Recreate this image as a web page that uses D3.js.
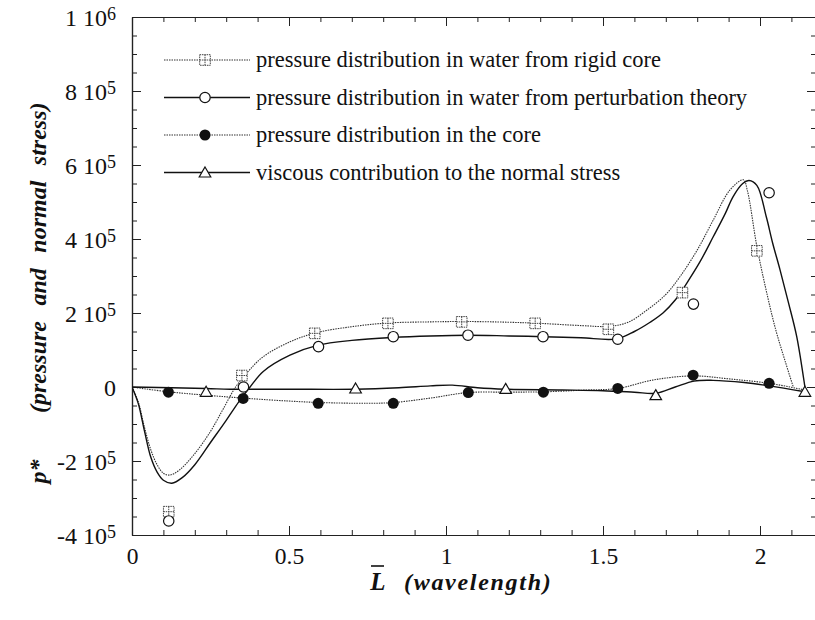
<!DOCTYPE html>
<html lang="en">
<head>
<meta charset="UTF-8">
<title>pressure</title>
<script src="https://cdn.jsdelivr.net/npm/d3@7"></script>
<style>
  body { margin: 0; background: #fff; }
  text { font-family: "Liberation Serif", "Times New Roman", serif; fill: #111; }
</style>
</head>
<body>
<svg id="chart" width="815" height="620"></svg>
<script>
// x in wavelengths, y in units of 1e5
let rigidX = [0, 0.02, 0.04, 0.06, 0.08, 0.1, 0.12, 0.15, 0.2, 0.25, 0.29, 0.33, 0.37, 0.418, 0.503, 0.583, 0.7, 0.815, 0.95, 1.06, 1.2, 1.3, 1.43, 1.52, 1.58, 1.64, 1.7, 1.745, 1.8, 1.851, 1.904, 1.947, 1.96, 1.99, 2.02, 2.05, 2.08, 2.106]
let rigidY = [0, -0.4, -1.1, -1.7, -2.1, -2.33, -2.38, -2.25, -1.8, -1.2, -0.6, 0, 0.42, 0.82, 1.22, 1.46, 1.63, 1.73, 1.76, 1.77, 1.75, 1.72, 1.66, 1.64, 1.75, 2.08, 2.5, 2.98, 3.7, 4.51, 5.32, 5.6, 5.3, 3.8, 2.6, 1.55, 0.7, 0]

let pertX = [0, 0.02, 0.04, 0.06, 0.08, 0.1, 0.127, 0.16, 0.2, 0.25, 0.3, 0.34, 0.376, 0.418, 0.503, 0.593, 0.7, 0.832, 0.95, 1.07, 1.2, 1.31, 1.43, 1.543, 1.6, 1.65, 1.691, 1.73, 1.767, 1.81, 1.851, 1.89, 1.914, 1.945, 1.965, 1.99, 2.02, 2.04, 2.064, 2.09, 2.117, 2.143]
let pertY = [0, -0.45, -1.2, -1.9, -2.3, -2.52, -2.6, -2.45, -2.1, -1.5, -0.9, -0.4, 0, 0.42, 0.86, 1.13, 1.26, 1.34, 1.38, 1.4, 1.38, 1.36, 1.33, 1.3, 1.5, 1.75, 2.0, 2.35, 2.81, 3.4, 4.06, 4.7, 5.14, 5.5, 5.58, 5.45, 4.6, 3.9, 3.16, 2.3, 1.36, 0]

let coreX = [0, 0.117, 0.354, 0.5, 0.6, 0.75, 0.832, 0.95, 1.071, 1.2, 1.31, 1.45, 1.547, 1.66, 1.787, 1.9, 2.029, 2.143]
let coreY = [0, -0.13, -0.3, -0.38, -0.42, -0.44, -0.42, -0.3, -0.15, -0.14, -0.13, -0.08, -0.04, 0.19, 0.3, 0.22, 0.1, -0.08]

let viscX = [0, 0.236, 0.312, 0.5, 0.712, 0.85, 0.95, 1.02, 1.1, 1.19, 1.37, 1.5, 1.6, 1.668, 1.73, 1.79, 1.85, 1.95, 2.03, 2.143]
let viscY = [0, -0.04, -0.06, -0.06, -0.06, -0.02, 0.03, 0.05, -0.02, -0.06, -0.08, -0.1, -0.14, -0.17, 0, 0.16, 0.18, 0.12, 0.03, -0.13]

// symbols
let rigidPtX = [0.117, 0.35, 0.582, 0.815, 1.05, 1.284, 1.517, 1.753, 1.99]
let rigidPtY = [-3.37, 0.31, 1.45, 1.72, 1.76, 1.72, 1.56, 2.55, 3.68]
let pertPtX = [0.117, 0.355, 0.594, 0.832, 1.07, 1.309, 1.547, 1.788, 2.029]
let pertPtY = [-3.62, 0, 1.09, 1.36, 1.4, 1.36, 1.29, 2.24, 5.25]
let corePtX = [0.116, 0.354, 0.593, 0.832, 1.071, 1.31, 1.547, 1.787, 2.029]
let corePtY = [-0.14, -0.31, -0.44, -0.44, -0.15, -0.14, -0.04, 0.32, 0.1]
let viscPtX = [0.236, 0.712, 1.19, 1.668, 2.143]
let viscPtY = [-0.13, -0.04, -0.05, -0.22, -0.13]

let xMajor = [0, 0.5, 1, 1.5, 2]
let yMajor = [-4e5, -2e5, 0, 2e5, 4e5, 6e5, 8e5, 1e6]
let yLabels = [["-4 10", "5"], ["-2 10", "5"], ["0", ""], ["2 10", "5"], ["4 10", "5"], ["6 10", "5"], ["8 10", "5"], ["1 10", "6"]]

let legendNames = [
  "pressure distribution in water from rigid core",
  "pressure distribution in water from perturbation theory",
  "pressure distribution in the core",
  "viscous contribution to the normal stress"
]

let svg = d3.select("#chart")
let pLeft = 132, pTop = 17, pBottom = 535, pRight = 817

let x = d3.scaleLinear().domain([0, (pRight - pLeft) / 314]).range([pLeft, pRight])
let y = d3.scaleLinear().domain([-4e5, 1e6]).range([pBottom, pTop])

let xMinor = d3.range(0, 2.2, 0.1).map(v => +v.toFixed(1)).filter(v => xMajor.indexOf(v) < 0)
let yMinor = d3.range(-4e5, 1e6, 5e4).filter(v => yMajor.indexOf(v) < 0)

// frame + ticks (inward)
function axes(gen, pos, tr, major, minor) {
  svg.append("g").attr("transform", tr)
    .call(gen(pos).tickValues(minor).tickSize(-5).tickSizeOuter(0).tickFormat(""))
  return svg.append("g").attr("transform", tr)
    .call(gen(pos).tickValues(major).tickSize(-9).tickSizeOuter(0))
}
let gb = axes(d3.axisBottom, x, `translate(0,${pBottom})`, xMajor, xMinor)
axes(d3.axisTop, x, `translate(0,${pTop})`, xMajor, xMinor).selectAll("text").remove()
let gl = axes(d3.axisLeft, y, `translate(${pLeft},0)`, yMajor, yMinor)
axes(d3.axisRight, y, `translate(${pRight - 1},0)`, yMajor, yMinor).selectAll("text").remove()

svg.selectAll(".domain").attr("stroke", "#222").attr("stroke-width", 1.2)
svg.selectAll(".tick line").attr("stroke", "#222")

gb.selectAll(".tick text").attr("font-size", 23.5).attr("y", 0).attr("dy", 0)
  .attr("transform", "translate(0,29)").attr("fill", "#111")
  .text(d => d)

gl.selectAll(".tick text").each(function(d) {
  let t = d3.select(this).text("").attr("font-size", 24).attr("x", -16).attr("dy", "0.35em").attr("fill", "#111")
  let lab = yLabels[yMajor.indexOf(d)]
  t.append("tspan").text(lab[0])
  if (lab[1]) t.append("tspan").attr("font-size", 18).attr("dy", -6).text(lab[1])
})

// curves
let line = d3.line().x(d => x(d[0])).y(d => y(d[1] * 1e5)).curve(d3.curveCatmullRom.alpha(0.5))
let zip = (a, b) => a.map((v, i) => [v, b[i]])

svg.append("clipPath").attr("id", "clip").append("rect")
  .attr("x", pLeft).attr("y", pTop).attr("width", pRight - pLeft).attr("height", pBottom - pTop)
let plot = svg.append("g").attr("clip-path", "url(#clip)")

plot.append("path").attr("d", line(zip(rigidX, rigidY))).attr("fill", "none")
  .attr("stroke", "#333").attr("stroke-width", 1.1).attr("stroke-dasharray", "1.5,1")
plot.append("path").attr("d", line(zip(pertX, pertY))).attr("fill", "none")
  .attr("stroke", "#111").attr("stroke-width", 1.4)
plot.append("path").attr("d", line(zip(coreX, coreY))).attr("fill", "none")
  .attr("stroke", "#333").attr("stroke-width", 1.1).attr("stroke-dasharray", "1.5,1")
plot.append("path").attr("d", line(zip(viscX, viscY))).attr("fill", "none")
  .attr("stroke", "#111").attr("stroke-width", 1.4)

// marker drawers
function square(g, cx, cy) {
  let s = 5.3
  g.append("rect").attr("x", cx - s).attr("y", cy - s).attr("width", 2 * s).attr("height", 2 * s)
    .attr("fill", "#fff").attr("stroke", "#444").attr("stroke-width", 1).attr("stroke-dasharray", "1.5,0.8")
  g.append("path").attr("d", `M${cx - s},${cy}H${cx + s}M${cx},${cy - s}V${cy + s}`)
    .attr("stroke", "#444").attr("stroke-width", 1).attr("stroke-dasharray", "1.5,0.8")
}
function circle(g, cx, cy) {
  g.append("circle").attr("cx", cx).attr("cy", cy).attr("r", 5.2)
    .attr("fill", "#fff").attr("stroke", "#111").attr("stroke-width", 1.2)
}
function dot(g, cx, cy) {
  g.append("circle").attr("cx", cx).attr("cy", cy).attr("r", 5.5).attr("fill", "#111")
}
function tri(g, cx, cy) {
  g.append("path").attr("d", `M${cx},${cy - 5.5}L${cx + 5.8},${cy + 4.5}L${cx - 5.8},${cy + 4.5}Z`)
    .attr("fill", "#fff").attr("stroke", "#111").attr("stroke-width", 1.2)
}

let mg = svg.append("g")
rigidPtX.forEach((v, i) => square(mg, x(v), y(rigidPtY[i] * 1e5)))
pertPtX.forEach((v, i) => circle(mg, x(v), y(pertPtY[i] * 1e5)))
corePtX.forEach((v, i) => dot(mg, x(v), y(corePtY[i] * 1e5)))
viscPtX.forEach((v, i) => tri(mg, x(v), y(viscPtY[i] * 1e5)))

// legend
let marks = [square, circle, dot, tri]
let dashes = ["1.5,1", null, "1.5,1", null]
legendNames.forEach((name, i) => {
  let ly = 60 + i * 37.5
  let lg = svg.append("g")
  lg.append("line").attr("x1", 164).attr("x2", 250).attr("y1", ly).attr("y2", ly)
    .attr("stroke", i % 2 ? "#111" : "#333").attr("stroke-width", i % 2 ? 1.3 : 1.1)
    .attr("stroke-dasharray", dashes[i])
  marks[i](lg, 205, ly)
  lg.append("text").attr("x", 256).attr("y", ly).attr("dy", "0.33em")
    .attr("font-size", 22.5).text(name)
})

// axis titles
svg.append("text")
  .attr("transform", "translate(46,293) rotate(-90)")
  .attr("text-anchor", "middle").attr("font-size", 24)
  .attr("font-weight", "bold").attr("font-style", "italic")
  .style("white-space", "pre").attr("word-spacing", 9.5)
  .text("p*   (pressure and normal stress)")

let xt = svg.append("g")
xt.append("text").attr("x", 378).attr("y", 590).attr("text-anchor", "middle")
  .attr("font-size", 25).attr("font-weight", "bold").attr("font-style", "italic").text("L")
xt.append("line").attr("x1", 371).attr("x2", 384).attr("y1", 566).attr("y2", 566)
  .attr("stroke", "#111").attr("stroke-width", 1.6)
xt.append("text").attr("x", 404).attr("y", 590)
  .attr("font-size", 24).attr("font-weight", "bold").attr("font-style", "italic")
  .attr("letter-spacing", 1.7).text("(wavelength)")
</script>
</body>
</html>
